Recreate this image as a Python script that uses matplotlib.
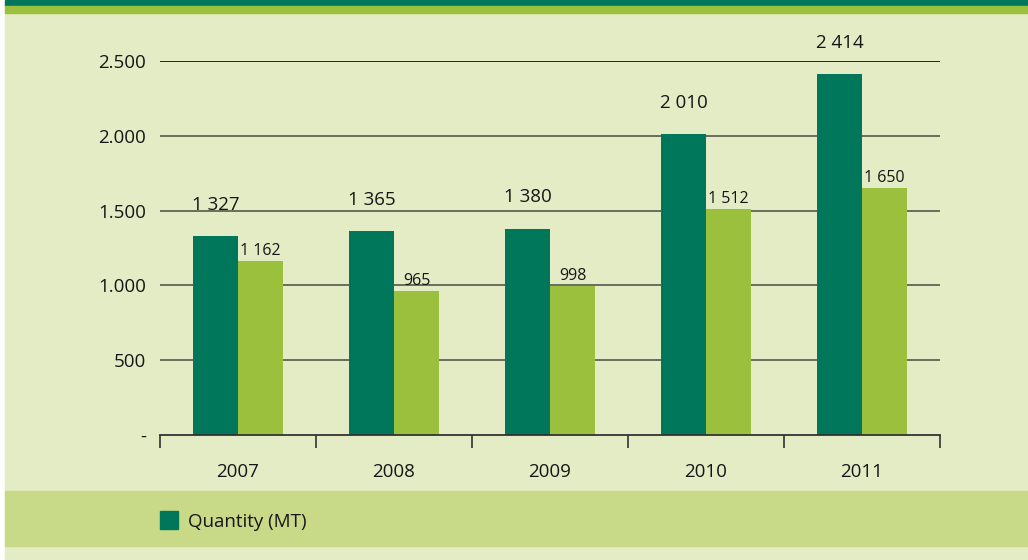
import matplotlib.pyplot as plt
import matplotlib.patches as mpatches
import numpy as np

years = ["2007", "2008", "2009", "2010", "2011"]
quantity = [1327, 1365, 1380, 2010, 2414]
second = [1162, 965, 998, 1512, 1650]
quantity_labels = ["1 327", "1 365", "1 380", "2 010", "2 414"]
second_labels = ["1 162", "965", "998", "1 512", "1 650"]
y_ticks = [0, 500, 1000, 1500, 2000, 2500]
y_tick_labels = ["-", "500", "1.000", "1.500", "2.000", "2.500"]

DARK = "#00775A"
LIGHT = "#9BC03E"
BG = "#E4ECC6"
BAND = "#C8D988"
TXT = "#161616"

plt.rcParams["font.family"] = ["Open Sans", "DejaVu Sans"]

W, H = 1028, 560
fig = plt.figure(figsize=(W / 100, H / 100), dpi=100)
fig.patch.set_facecolor("white")

# background panel and top bands
fig.patches.append(mpatches.Rectangle((5 / W, 0), 1 - 5 / W, 1 - 13 / H,
                                      transform=fig.transFigure, color=BG, zorder=-3))
fig.patches.append(mpatches.Rectangle((5 / W, 1 - 6 / H), 1, 6 / H,
                                      transform=fig.transFigure, color=DARK, zorder=-2))
fig.patches.append(mpatches.Rectangle((5 / W, 1 - 13 / H), 1, 7 / H,
                                      transform=fig.transFigure, color=LIGHT, zorder=-2))
# legend band
fig.patches.append(mpatches.Rectangle((5 / W, 1 - 546 / H), 1, 55 / H,
                                      transform=fig.transFigure, color=BAND, zorder=-2))

ax = fig.add_axes([160 / W, 1 - 435 / H, 780 / W, 374 / H])
ax.set_facecolor("none")

x = np.arange(len(years))
bw = 0.29
ax.bar(x - bw / 2, quantity, bw, color=DARK, zorder=3)
ax.bar(x + bw / 2, second, bw, color=LIGHT, zorder=3)

for xi, v, lab in zip(x, quantity, quantity_labels):
    ax.annotate(lab, (xi - bw / 2, v), xytext=(0, 16), textcoords="offset points",
                ha="center", va="bottom", fontsize=13.5, color=TXT)
for xi, v, lab in zip(x, second, second_labels):
    ax.annotate(lab, (xi + bw / 2, v), xytext=(0, 1.5), textcoords="offset points",
                ha="center", va="bottom", fontsize=11.5, color=TXT)

ax.set_xlim(-0.5, len(years) - 0.5)
ax.set_ylim(0, 2500)
ax.set_yticks(y_ticks)
ax.set_yticklabels(y_tick_labels, fontsize=13.5, color=TXT)
ax.tick_params(axis="y", length=0, pad=10)
for t in y_ticks[1:]:
    ax.axhline(t, color=TXT if t == 2500 else "#5f6357", lw=1.3, zorder=1)

ax.set_xticks(x)
ax.set_xticklabels(years, fontsize=13.5, color=TXT)
ax.set_xticks(np.arange(len(years) + 1) - 0.5, minor=True)
ax.tick_params(axis="x", which="major", length=0, pad=20)
ax.tick_params(axis="x", which="minor", length=9, width=1.2, color="#333333", direction="out")

for s in ["top", "right", "left"]:
    ax.spines[s].set_visible(False)
ax.spines["bottom"].set_color("#333333")
ax.spines["bottom"].set_linewidth(1.3)
ax.spines["bottom"].set_zorder(4)

# legend
fig.patches.append(mpatches.Rectangle((160 / W, 1 - 529 / H), 18 / W, 18 / H,
                                      transform=fig.transFigure, color=DARK))
fig.text(188 / W, 1 - 522 / H, "Quantity (MT)", fontsize=13.5, va="center", color=TXT)

fig.savefig("out.png", dpi=100)
